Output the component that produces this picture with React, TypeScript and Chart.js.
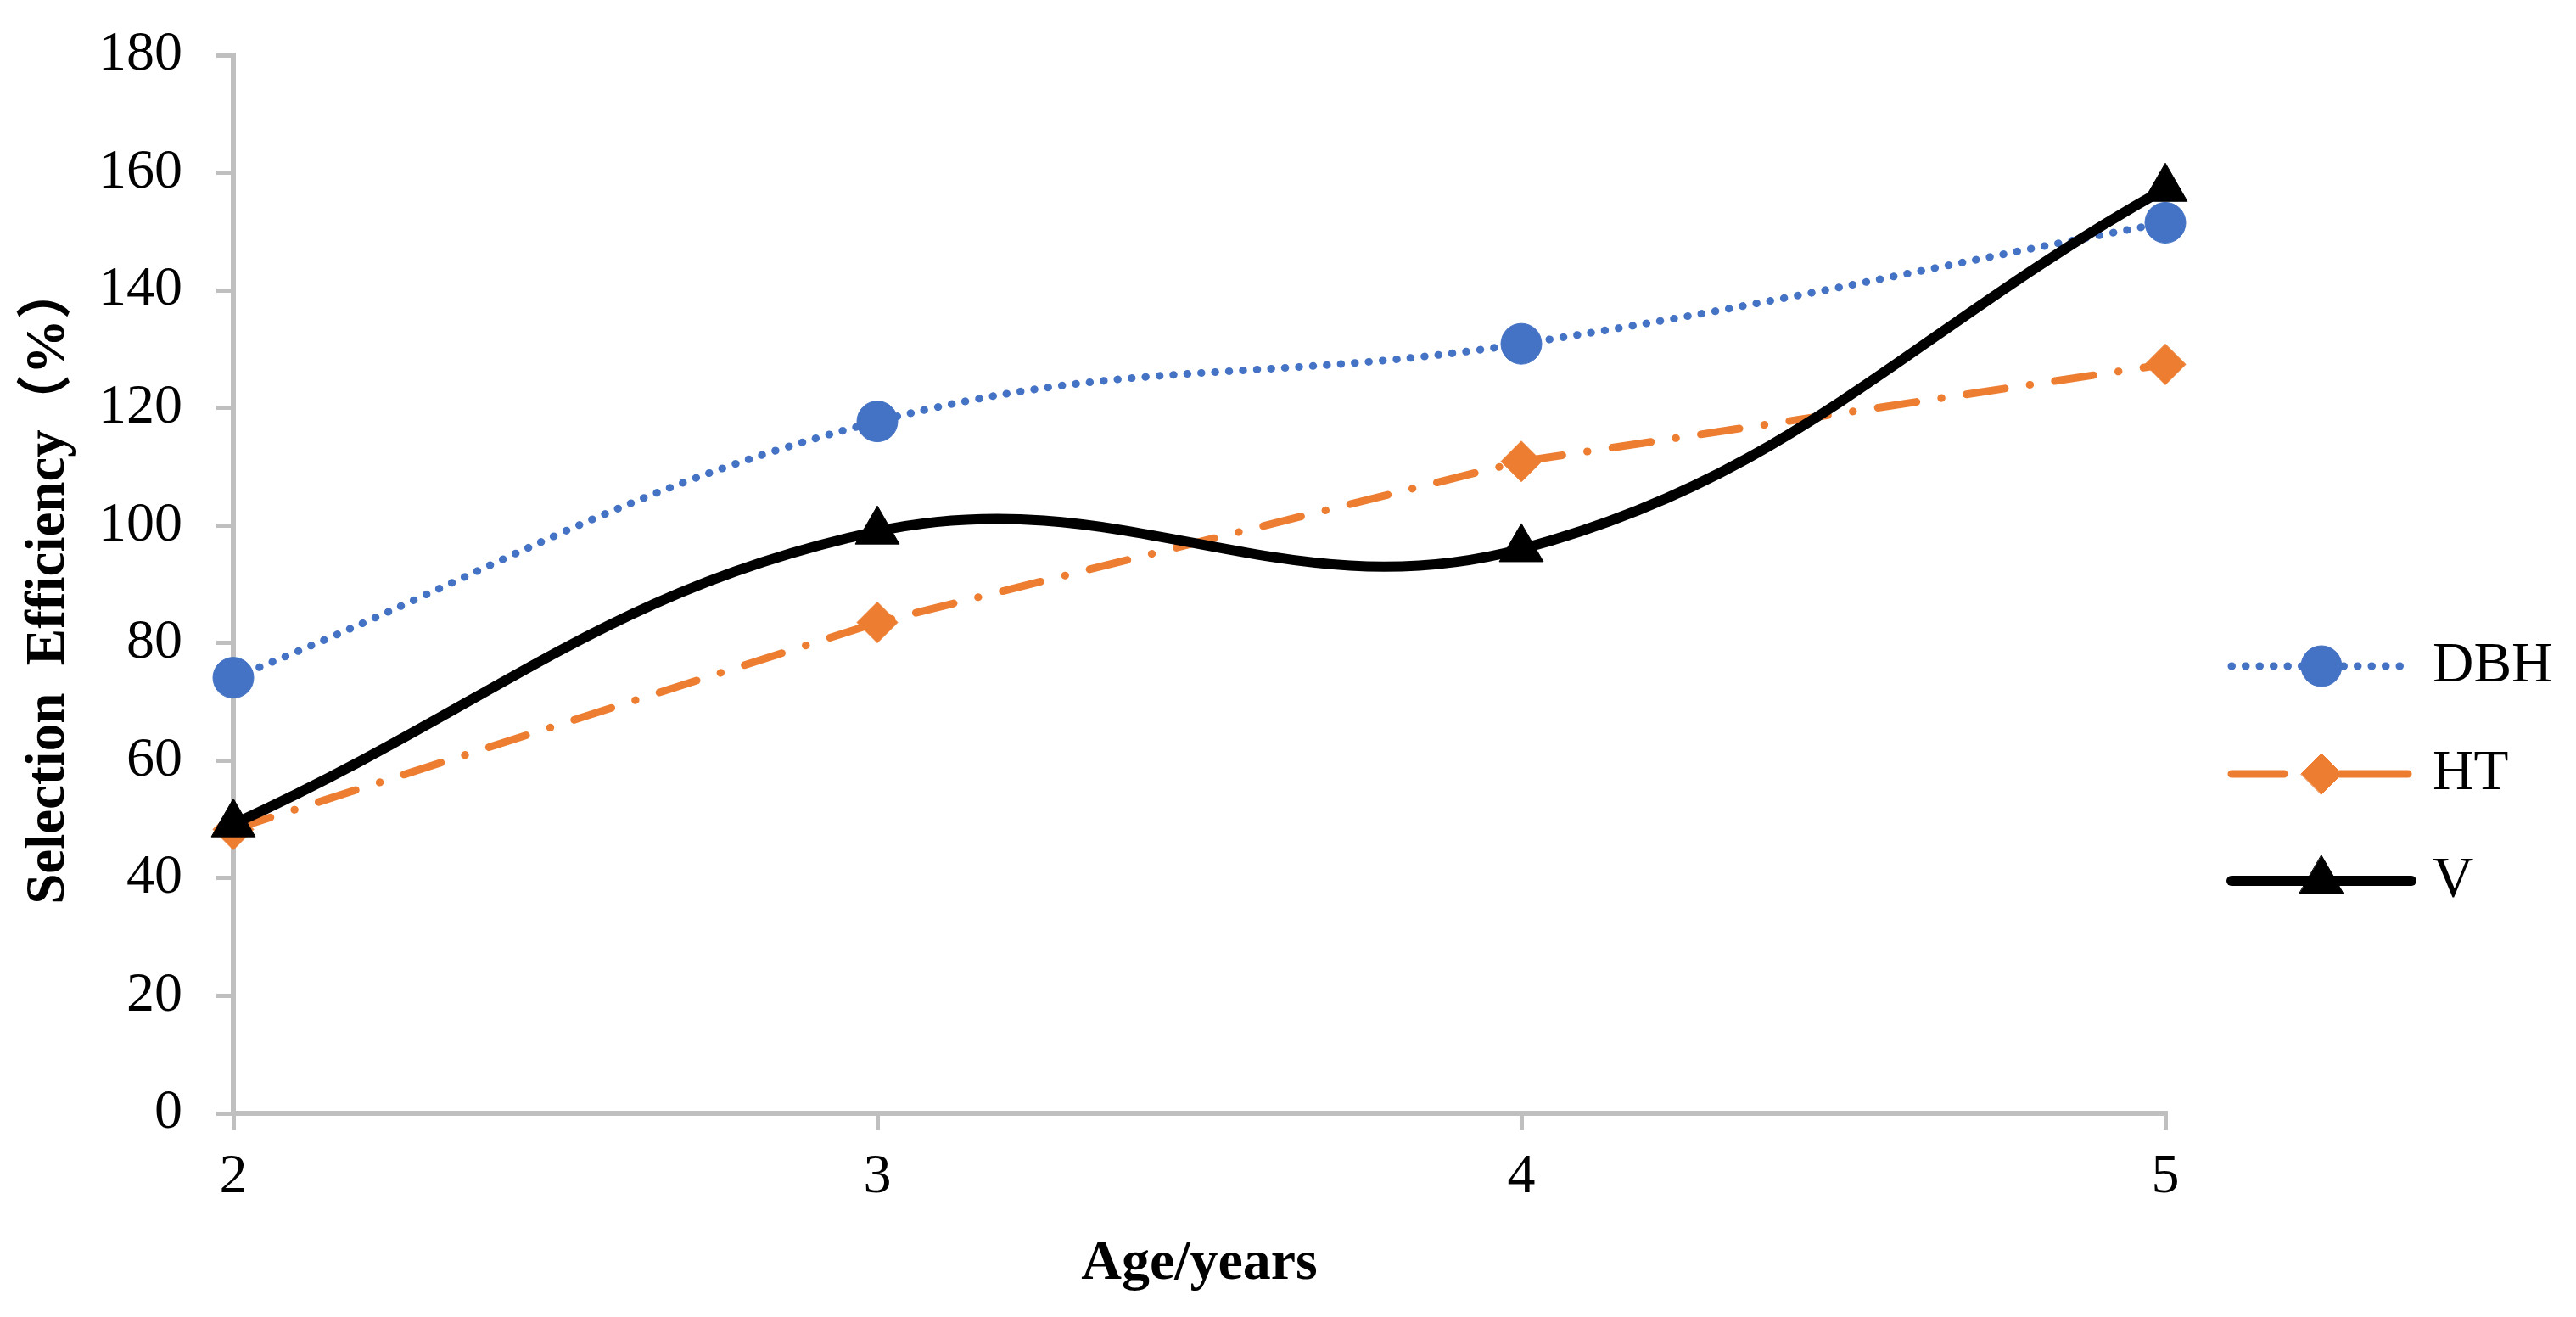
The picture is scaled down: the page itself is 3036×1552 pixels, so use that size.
import React, { useEffect, useRef } from "react";
import { Chart, registerables } from "chart.js";
import { drawPoint } from "chart.js/helpers";

Chart.register(...registerables);

// ---- data ----
const categories = ["2", "3", "4", "5"];
const seriesNames = ["DBH", "HT", "V"];
const dbhValues = [74.1, 117.7, 130.9, 151.5];
const htValues = [48.3, 83.5, 110.9, 127.4];
const vValues = [49.2, 99.0, 96.0, 157.3];
const yMin = 0;
const yMax = 180;
const yStep = 20;
const xTitle = "Age/years";
const yTitle = "Selection  Efficiency（%）";

// ---- styles ----
const BLUE = "#4472C4";
const ORANGE = "#ED7D31";
const BLACK = "#000000";
const AXIS = "#BFBFBF";
const FONT = "'Liberation Serif', 'Times New Roman', 'Noto Sans CJK SC', serif";

const lineLegend = {
  id: "lineLegend",
  afterDraw(chart: any, _args: any, opts: any) {
    const ctx = chart.ctx as CanvasRenderingContext2D;
    const { x0, x1, textX, rows, fontSize } = opts;
    chart.data.datasets.forEach((ds: any, i: number) => {
      const y = rows[i];
      ctx.save();
      ctx.strokeStyle = ds.borderColor;
      ctx.lineWidth = ds.borderWidth;
      ctx.lineCap = ds.borderCapStyle || "butt";
      ctx.setLineDash(ds.legendDash || ds.borderDash || []);
      ctx.beginPath();
      ctx.moveTo(x0, y);
      ctx.lineTo(x1, y);
      ctx.stroke();
      ctx.setLineDash([]);
      ctx.fillStyle = ds.pointBackgroundColor;
      ctx.strokeStyle = ds.pointBorderColor;
      ctx.lineWidth = ds.pointBorderWidth;
      drawPoint(
        ctx,
        {
          pointStyle: ds.pointStyle,
          radius: ds.pointRadius,
          rotation: 0,
          borderWidth: ds.pointBorderWidth,
        } as any,
        (x0 + x1) / 2,
        y
      );
      ctx.fillStyle = "#000";
      ctx.font = `${fontSize}px ${FONT}`;
      ctx.textAlign = "left";
      ctx.textBaseline = "middle";
      ctx.fillText(ds.label, textX, y);
      ctx.restore();
    });
  },
};

export default function App() {
  const ref = useRef<HTMLCanvasElement>(null);

  useEffect(() => {
    document.body.style.margin = "0";
    document.body.style.overflow = "hidden";
    Chart.defaults.font.family = FONT;
    Chart.defaults.color = "#000";

    const chart = new Chart(ref.current!, {
      type: "line",
      data: {
        labels: categories,
        datasets: [
          {
            label: seriesNames[0],
            data: dbhValues,
            borderColor: BLUE,
            backgroundColor: BLUE,
            borderWidth: 9,
            borderDash: [0.5, 16],
            borderCapStyle: "round",
            tension: 0.4,
            pointStyle: "circle",
            pointRadius: 24,
            pointBackgroundColor: BLUE,
            pointBorderColor: BLUE,
            pointBorderWidth: 1,
            fill: false,
            order: 2,
            clip: false as any,
          },
          {
            label: seriesNames[1],
            data: htValues,
            borderColor: ORANGE,
            backgroundColor: ORANGE,
            borderWidth: 9,
            borderDash: [46, 29.5, 0.5, 29.5],
            legendDash: [62, 66, 80, 40],
            borderCapStyle: "round",
            tension: 0,
            pointStyle: "rectRot",
            pointRadius: 24,
            pointBackgroundColor: ORANGE,
            pointBorderColor: ORANGE,
            pointBorderWidth: 1,
            fill: false,
            order: 1,
            clip: false as any,
          } as any,
          {
            label: seriesNames[2],
            data: vValues,
            borderColor: BLACK,
            backgroundColor: BLACK,
            borderWidth: 12,
            borderCapStyle: "round",
            tension: 0.4,
            pointStyle: "triangle",
            pointRadius: 30,
            pointBackgroundColor: BLACK,
            pointBorderColor: BLACK,
            pointBorderWidth: 1,
            fill: false,
            order: 0,
            clip: false as any,
          },
        ],
      },
      options: {
        animation: false,
        responsive: true,
        maintainAspectRatio: false,
        events: [],
        layout: { padding: { left: 0, top: 65, right: 484, bottom: 0 } },
        plugins: {
          legend: { display: false },
          tooltip: { enabled: false },
          lineLegend: {
            x0: 2630,
            x1: 2842,
            textX: 2867,
            rows: [785, 912, 1038],
            fontSize: 67,
          },
        } as any,
        scales: {
          x: {
            type: "category",
            offset: false,
            grid: {
              drawOnChartArea: false,
              drawTicks: true,
              tickLength: 20,
              color: AXIS,
              lineWidth: 5,
              offset: false,
            },
            border: { color: AXIS, width: 6 },
            ticks: {
              padding: 16,
              font: { size: 66 },
              color: "#000",
              maxRotation: 0,
              autoSkip: false,
            },
            title: {
              display: true,
              text: xTitle,
              font: { size: 66, weight: "bold" },
              color: "#000",
              padding: { top: 0, bottom: 22 },
            },
            afterFit: (s: any) => {
              s.height = 240;
              s.paddingLeft = 0;
              s.paddingRight = 0;
            },
          },
          y: {
            min: yMin,
            max: yMax,
            ticks: {
              stepSize: yStep,
              padding: 40,
              font: { size: 66 },
              color: "#000",
            },
            grid: {
              drawOnChartArea: false,
              drawTicks: true,
              tickLength: 20,
              color: AXIS,
              lineWidth: 5,
            },
            border: { color: AXIS, width: 6 },
            title: {
              display: true,
              text: yTitle,
              font: { size: 65, weight: "bold" },
              color: "#000",
              padding: { top: 19, bottom: 0 },
            },
            afterFit: (s: any) => {
              s.width = 275;
              s.paddingTop = 0;
              s.paddingBottom = 0;
            },
          },
        },
      },
      plugins: [lineLegend as any],
    });
    return () => chart.destroy();
  }, []);

  return (
    <div style={{ width: 3036, height: 1552, position: "relative" }}>
      <canvas ref={ref} />
    </div>
  );
}
